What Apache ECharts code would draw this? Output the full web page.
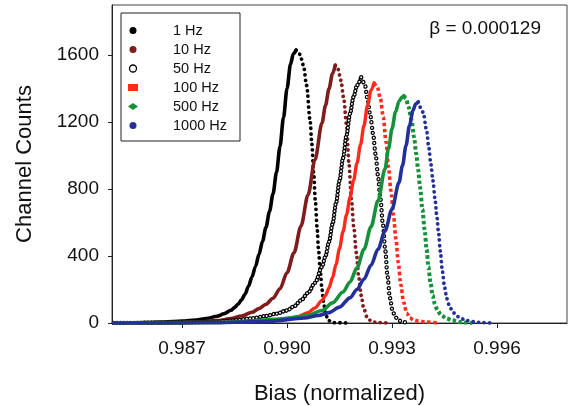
<!DOCTYPE html>
<html>
<head>
<meta charset="utf-8">
<script src="https://cdn.jsdelivr.net/npm/echarts@6/dist/echarts.min.js"></script>
<style>
html,body{margin:0;padding:0;background:#fff;}
#chart{width:570px;height:406px;}
</style>
</head>
<body>
<div id="chart"></div>
<script>
// ---- data ----
const seriesNames = ['1 Hz', '10 Hz', '50 Hz', '100 Hz', '500 Hz', '1000 Hz'];
const xTicks = [0.987, 0.990, 0.993, 0.996];
const yTicks = [0, 400, 800, 1200, 1600];
const betaLabel = 'β = 0.000129';

const hz1Bias = [0.98505,0.9860,0.9865,0.9870,0.9874,0.9877,0.9880,0.9882,0.9884,0.9885,0.9886,0.9887,0.9888,0.9889,0.9890,0.9891,0.9892,0.9893,0.9894,0.9895,0.9896,0.9897,0.9898,0.9899,0.9900,0.9901,0.99018,0.99026,0.99037,0.99047,0.99056,0.99066,0.99071,0.99076,0.99081,0.99086,0.99090,0.99095,0.99100,0.99105,0.99110,0.99118,0.99131,0.99180];
const hz1Counts = [0,2,5,11,18,27,40,55,76,92,112,138,172,220,275,338,410,488,572,666,772,900,1055,1228,1400,1545,1608,1630,1605,1540,1420,1210,1070,900,730,570,440,310,200,115,55,15,2,0];

const hz10Bias = [0.98505,0.9860,0.9870,0.9875,0.9880,0.9884,0.9887,0.9890,0.9892,0.9894,0.9896,0.9898,0.9900,0.9902,0.9904,0.9906,0.9908,0.9910,0.9911,0.9912,0.9913,0.99138,0.99146,0.99154,0.99162,0.99170,0.99177,0.99184,0.99191,0.99198,0.99205,0.99212,0.99219,0.99228,0.99240,0.99255,0.9929];
const hz10Counts = [0,1,3,7,14,26,42,64,86,112,148,205,300,420,580,765,975,1195,1300,1400,1490,1540,1515,1450,1345,1185,950,740,570,420,275,165,90,38,12,3,0];

const hz50Bias = [0.98505,0.9870,0.9880,0.9885,0.9890,0.9894,0.9897,0.9900,0.9902,0.9904,0.9906,0.9908,0.9910,0.9911,0.9912,0.9913,0.9914,0.9915,0.9916,0.9917,0.9918,0.9919,0.9920,0.99212,0.99222,0.99230,0.99238,0.99246,0.99253,0.99260,0.99267,0.99274,0.99281,0.99287,0.99294,0.99301,0.99309,0.99320,0.99332,0.9935];
const hz50Counts = [0,2,8,16,28,42,56,75,100,135,180,240,335,400,485,590,715,850,985,1120,1250,1350,1420,1468,1430,1340,1240,1130,1010,880,740,590,430,280,150,80,36,14,5,0];

const hz100Bias = [0.98505,0.9880,0.9890,0.9895,0.9900,0.9903,0.9906,0.9908,0.9910,0.9911,0.9912,0.9913,0.9914,0.9915,0.9916,0.9917,0.9918,0.9919,0.9920,0.9921,0.9922,0.9923,0.9924,0.99249,0.99258,0.99267,0.99275,0.99283,0.99290,0.99297,0.99304,0.99311,0.99318,0.99325,0.99333,0.99342,0.99351,0.99362,0.99375,0.99395,0.9943];
const hz100Counts = [0,3,10,16,26,38,62,90,135,165,210,270,350,445,545,645,750,850,955,1065,1180,1300,1390,1435,1410,1340,1230,1080,930,790,650,505,360,230,125,60,30,18,12,6,0];

const hz500Bias = [0.98505,0.9880,0.9890,0.9897,0.9902,0.9906,0.9910,0.9913,0.9916,0.9918,0.9920,0.9922,0.9924,0.9926,0.9928,0.9929,0.9930,0.9931,0.9932,0.9933,0.99334,0.99340,0.99347,0.99356,0.99363,0.99369,0.99375,0.99380,0.99387,0.99393,0.99399,0.99404,0.99410,0.99416,0.99422,0.99430,0.99440,0.99455,0.99471,0.9950,0.9953];
const hz500Counts = [0,3,12,22,32,45,75,120,185,245,330,440,575,730,920,1040,1160,1260,1325,1352,1358,1340,1292,1212,1112,1013,913,813,680,560,440,335,240,165,115,75,48,28,16,4,0];

const hz1000Bias = [0.98505,0.9880,0.9895,0.9905,0.9909,0.9912,0.9915,0.9918,0.9920,0.9922,0.9924,0.9926,0.9928,0.9930,0.9932,0.9933,0.9934,0.9935,0.9936,0.99368,0.99375,0.99389,0.99399,0.99405,0.99411,0.99417,0.99423,0.99428,0.99433,0.99438,0.99444,0.99450,0.99457,0.99465,0.99475,0.99488,0.99513,0.9955,0.9958];
const hz1000Counts = [0,2,10,30,45,62,95,150,200,262,345,440,550,680,840,940,1060,1180,1270,1310,1320,1260,1150,1050,950,850,740,640,540,430,310,215,145,95,62,38,14,3,0];

// ---- chart ----
const FONT = '"Liberation Sans", Arial, sans-serif';
const pairs = (xs, ys) => xs.map((x, i) => [x, ys[i]]);

// Each curve is drawn in two parts sharing the peak point: the rising flank
// (markers so dense they read as a solid band) and the falling flank (spaced markers).
function curve(name, xs, ys, color, style) {
  const pts = pairs(xs, ys);
  const peak = ys.indexOf(Math.max.apply(null, ys));
  const base = {
    name: name, type: 'line', showSymbol: false,
    smooth: 0.3, smoothMonotone: 'x',
    color: color, itemStyle: { color: color },
    emphasis: { disabled: true }, silent: true
  };
  const out = [];
  const parts = [pts.slice(0, peak + 1), pts.slice(peak)];
  parts.forEach((data, k) => {
    const dense = k === 0;
    if (style === 'hollow') {
      out.push(Object.assign({}, base, { data: data,
        lineStyle: { color: '#000', width: 4.4, type: [0.01, dense ? 3.4 : 5.2], cap: 'round' } }));
      out.push(Object.assign({}, base, { data: data, color: '#000', itemStyle: { color: '#000' },
        lineStyle: { color: '#fff', width: 1.9, type: [0.01, dense ? 3.4 : 5.2], cap: 'round' } }));
    } else if (style === 'square') {
      out.push(Object.assign({}, base, { data: data,
        lineStyle: dense ? { color: color, width: 3.4, type: 'solid', cap: 'round' }
                         : { color: color, width: 3.6, type: [3.4, 2.6], cap: 'butt' } }));
    } else if (style === 'diamond') {
      out.push(Object.assign({}, base, { data: data,
        lineStyle: dense ? { color: color, width: 3.6, type: 'solid', cap: 'round' }
                         : { color: color, width: 4.0, type: [3.4, 2.4], cap: 'butt' } }));
    } else {
      out.push(Object.assign({}, base, { data: data,
        lineStyle: dense ? { color: color, width: 3.6, type: 'solid', cap: 'round' }
                         : { color: color, width: 3.8, type: [0.01, 5.4], cap: 'round' } }));
    }
  });
  return out;
}

const chart = echarts.init(document.getElementById('chart'), null, { renderer: 'canvas' });
chart.setOption({
  animation: false,
  backgroundColor: '#fff',
  title: {
    text: betaLabel,
    right: 24,
    top: 14,
    textStyle: { fontFamily: FONT, fontSize: 19, fontWeight: 'normal', color: '#111' }
  },
  grid: {
    left: 112, right: 3, top: 5, bottom: 83,
    outerBoundsMode: 'none',
    containLabel: false,
    show: true, borderColor: '#444', borderWidth: 1, backgroundColor: 'transparent'
  },
  legend: {
    orient: 'vertical',
    left: 121, top: 13,
    padding: [10, 13, 8, 7],
    itemWidth: 10, itemHeight: 7, itemGap: 4,
    borderColor: '#222', borderWidth: 1, backgroundColor: '#fff',
    selectedMode: false,
    textStyle: { fontFamily: FONT, fontSize: 14.5, color: '#111', lineHeight: 14, padding: [0, 0, 0, 30] },
    data: [
      { name: '1 Hz', icon: 'circle' },
      { name: '10 Hz', icon: 'circle' },
      { name: '50 Hz', icon: 'circle', itemStyle: { color: '#fff', borderColor: '#000', borderWidth: 1.3 } },
      { name: '100 Hz', icon: 'rect' },
      { name: '500 Hz', icon: 'diamond' },
      { name: '1000 Hz', icon: 'circle' }
    ]
  },
  xAxis: {
    type: 'value',
    min: 0.985, max: 0.998,
    name: 'Bias (normalized)',
    nameLocation: 'middle',
    nameGap: 60,
    nameTextStyle: { fontFamily: FONT, fontSize: 22, color: '#111' },
    axisLine: { show: true, lineStyle: { color: '#222', width: 1 } },
    axisTick: { show: true, length: 5, inside: false, customValues: xTicks, lineStyle: { color: '#222' } },
    axisLabel: {
      customValues: xTicks, margin: 16,
      fontFamily: FONT, fontSize: 19, color: '#111',
      formatter: v => v.toFixed(3)
    },
    splitLine: { show: false }
  },
  yAxis: {
    type: 'value',
    min: 0, max: 1900,
    name: 'Channel Counts',
    nameLocation: 'middle',
    nameGap: 76,
    nameTextStyle: { fontFamily: FONT, fontSize: 22, color: '#111' },
    axisLine: { show: true, lineStyle: { color: '#222', width: 1 } },
    axisTick: { show: true, length: 4, inside: false, customValues: yTicks, lineStyle: { color: '#222' } },
    axisLabel: {
      customValues: yTicks, margin: 13,
      fontFamily: FONT, fontSize: 19, color: '#111',
      formatter: v => String(v)
    },
    splitLine: { show: false }
  },
  series: [].concat(
    curve(seriesNames[0], hz1Bias, hz1Counts, '#000000', 'dot'),
    curve(seriesNames[1], hz10Bias, hz10Counts, '#7f1d1d', 'dot'),
    curve(seriesNames[2], hz50Bias, hz50Counts, '#000000', 'hollow'),
    curve(seriesNames[3], hz100Bias, hz100Counts, '#ff2a1c', 'square'),
    curve(seriesNames[4], hz500Bias, hz500Counts, '#17903c', 'diamond'),
    curve(seriesNames[5], hz1000Bias, hz1000Counts, '#24309a', 'dot')
  )
});
</script>
</body>
</html>
